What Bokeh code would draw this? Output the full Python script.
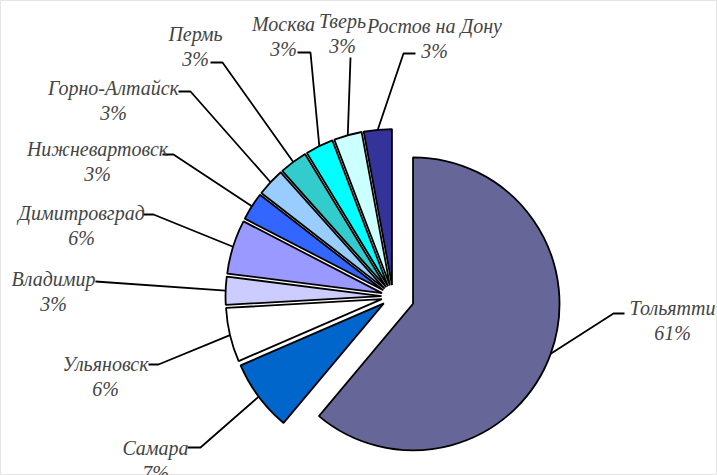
import math
from bokeh.plotting import figure
from bokeh.models import ColumnDataSource, Range1d, Label
from bokeh.embed import file_html
from bokeh.resources import INLINE

# ---- data ----
cities = ["Тольятти", "Самара", "Ульяновск", "Владимир", "Димитровград",
          "Нижневартовск", "Горно-Алтайск", "Пермь", "Москва", "Тверь",
          "Ростов на Дону"]
shares = [61.1, 7.4, 5.6, 2.9, 5.6, 2.9, 2.9, 2.9, 2.9, 2.9, 2.9]

# ---- style / layout ----
colors = ["#666699", "#0066CC", "#FFFFFF", "#CCCCFF", "#9999FF", "#3366FF",
          "#99CCFF", "#33CCCC", "#00FFFF", "#CCFFFF", "#333399"]
W, H = 717, 475
CX, CY = 392.5, H - 296
explode = [21.3] + [11.5] * 10
radius = [146.5] + [156.0] * 10
# label layout in screen pixels: text center, leader elbow, leader end
label_pos = [(672, 307), (155, 447), (105, 363), (53, 278), (81, 212), (97, 148),
             (113, 87), (195, 33), (283, 23), (342, 20), (434, 25)]
leader_elbow = [(613, 313), (200, 447), (158, 364), (95, 281), (153, 214), (173, 154),
                (190, 91), (222, 62), (310, 52), (350, 57), (403, 53)]
leader_end = [(624, 313), (187, 447), (148, 364), (95, 281), (142, 214), (162, 154),
              (178, 91), (210, 62), (297, 52), (350, 57), (415, 53)]
LINE_GAP = 25

total = sum(shares)
xs, ys, sa, ea, rr = [], [], [], [], []
lx, ly = [], []
cum = 0.0
for i, v in enumerate(shares):
    t0 = cum / total * 2 * math.pi
    cum += v
    t1 = cum / total * 2 * math.pi
    tm = (t0 + t1) / 2
    phi = math.pi / 2 - tm
    ux, uy = math.cos(phi), math.sin(phi)
    ax, ay = CX + explode[i] * ux, CY + explode[i] * uy
    xs.append(ax); ys.append(ay)
    sa.append(math.pi / 2 - t0); ea.append(math.pi / 2 - t1)
    rr.append(radius[i])
    px, py = ax + radius[i] * ux, ay + radius[i] * uy
    ex, ey = leader_elbow[i]
    nx, ny = leader_end[i]
    lx.append([px, ex, nx]); ly.append([py, H - ey, H - ny])

src = ColumnDataSource(dict(x=xs, y=ys, r=rr, sa=sa, ea=ea, color=colors))

p = figure(width=W, height=H, x_range=Range1d(0, W), y_range=Range1d(0, H),
           output_backend="svg", toolbar_location=None, min_border=0,
           x_axis_type=None, y_axis_type=None)

p.wedge(x="x", y="y", radius="r", start_angle="sa", end_angle="ea",
        direction="clock", fill_color="color", line_color="black",
        line_width=1.8, source=src)

p.multi_line(xs=lx, ys=ly, line_color="black", line_width=1.8)

pct = [f"{round(v / total * 100)}%" for v in shares]
for i, name in enumerate(cities):
    cx, cy = label_pos[i]
    for txt, yy in ((name, H - cy), (pct[i], H - cy - LINE_GAP)):
        p.add_layout(Label(x=cx, y=yy, text=txt, text_font="Times New Roman",
                           text_font_style="italic", text_font_size="20px",
                           text_align="center", text_baseline="middle"))

open("out.html", "w").write(file_html(p, INLINE))
